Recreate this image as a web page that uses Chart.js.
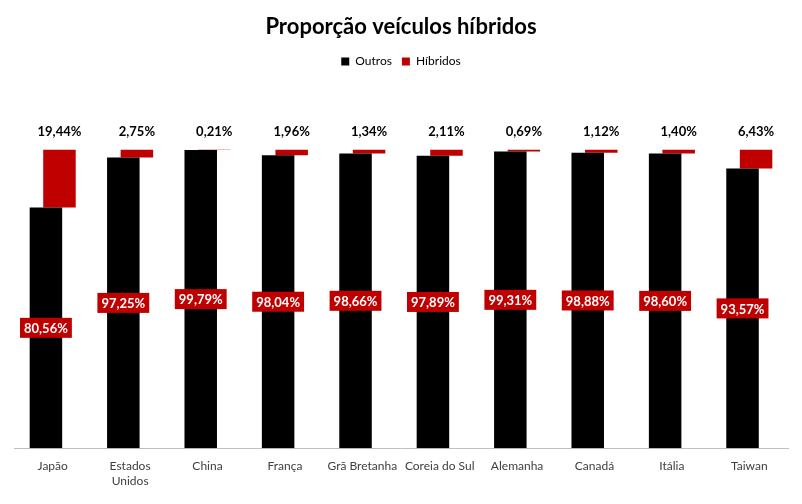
<!DOCTYPE html>
<html>
<head>
<meta charset="utf-8">
<script src="https://cdn.jsdelivr.net/npm/chart.js@4/dist/chart.umd.min.js"></script>
<style>
  html, body { margin: 0; padding: 0; background: #fff; }
  #wrap { width: 802px; height: 504px; }
</style>
</head>
<body>
<div id="wrap"><canvas id="c"></canvas></div>
<script>
// data
const countries = ["Japão", ["Estados", "Unidos"], "China", "França", "Grã Bretanha",
  "Coreia do Sul", "Alemanha", "Canadá", "Itália", "Taiwan"];
const outros = [80.56, 97.25, 99.79, 98.04, 98.66, 97.89, 99.31, 98.88, 98.60, 93.57];
const hibridos = [19.44, 2.75, 0.21, 1.96, 1.34, 2.11, 0.69, 1.12, 1.40, 6.43];

const RED = "#C00000";
const FONT = "Lato, 'Open Sans', sans-serif";

const fmt = (v) => v.toFixed(2).replace(".", ",") + "%";

// híbridos bar floats from the top of "outros" to 100%
const hibFloating = outros.map((o, i) => [o, o + hibridos[i]]);

// extra room under the legend (labels of the red bars live there)
const legendGap = {
  id: "legendGap",
  beforeInit(chart) {
    const fit = chart.legend.fit;
    chart.legend.fit = function () {
      fit.bind(chart.legend)();
      this.height += 72;
    };
  }
};

// draws the value labels the way the original chart does
const valueLabels = {
  id: "valueLabels",
  afterDatasetsDraw(chart) {
    const ctx = chart.ctx;
    ctx.save();
    ctx.textAlign = "center";
    ctx.textBaseline = "middle";
    ctx.font = `bold 13px ${FONT}`;

    // outros: white text on red box, middle of the bar
    chart.getDatasetMeta(0).data.forEach((bar, i) => {
      const txt = fmt(outros[i]);
      const w = ctx.measureText(txt).width + 8;
      const h = 20;
      const y = (bar.y + bar.base) / 2;
      ctx.fillStyle = RED;
      ctx.fillRect(bar.x - w / 2, y - h / 2, w, h);
      ctx.fillStyle = "#fff";
      ctx.fillText(txt, bar.x, y + 1);
    });

    // híbridos: black text above the top
    chart.getDatasetMeta(1).data.forEach((bar, i) => {
      ctx.fillStyle = "#000";
      ctx.fillText(fmt(hibridos[i]), bar.x, chart.chartArea.top - 18);
    });
    ctx.restore();
  }
};

new Chart(document.getElementById("c"), {
  type: "bar",
  data: {
    labels: countries,
    datasets: [
      {
        label: "Outros",
        data: outros,
        backgroundColor: "#000000",
        categoryPercentage: 0.35,
        barPercentage: 2.4
      },
      {
        label: "Híbridos",
        data: hibFloating,
        backgroundColor: RED,
        categoryPercentage: 0.35,
        barPercentage: 2.4
      }
    ]
  },
  options: {
    responsive: true,
    maintainAspectRatio: false,
    animation: false,
    layout: { padding: { left: 14, right: 14, top: 0, bottom: 13 } },
    plugins: {
      tooltip: { enabled: false },
      title: {
        display: true,
        text: "Proporção veículos híbridos",
        color: "#000",
        font: { family: FONT, size: 22, weight: "bold" },
        padding: { top: 14, bottom: 5 }
      },
      legend: {
        display: true,
        labels: {
          boxWidth: 8,
          boxHeight: 8,
          color: "#000",
          padding: 10,
          font: { family: FONT, size: 12 }
        }
      }
    },
    scales: {
      x: {
        grid: { display: false },
        border: { display: true, color: "#BFBFBF" },
        ticks: {
          color: "#404040",
          font: { family: FONT, size: 12 },
          maxRotation: 0,
          autoSkip: false,
          padding: 3
        }
      },
      y: {
        display: false,
        min: 0,
        max: 100
      }
    }
  },
  plugins: [legendGap, valueLabels]
});
</script>
</body>
</html>
